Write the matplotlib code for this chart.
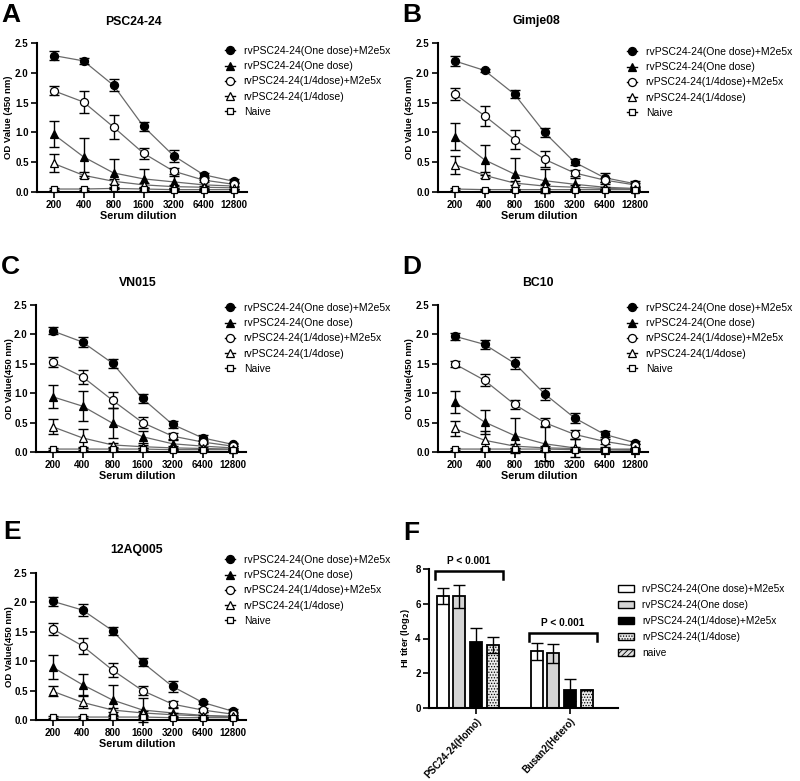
import matplotlib
matplotlib.use("Agg")
import matplotlib.pyplot as plt
from matplotlib.lines import Line2D
from matplotlib.patches import Patch
import numpy as np

plt.rcParams['font.family'] = ['Liberation Sans', 'DejaVu Sans']
plt.rcParams['hatch.linewidth'] = 0.6

W, H = 800, 781

# ---------------- data ----------------
dilutions = ['200', '400', '800', '1600', '3200', '6400', '12800']
series_labels = ['rvPSC24-24(One dose)+M2e5x', 'rvPSC24-24(One dose)',
                 'rvPSC24-24(1/4dose)+M2e5x', 'rvPSC24-24(1/4dose)', 'Naive']

# Panel A  PSC24-24
a_one_m2e = [2.29, 2.20, 1.79, 1.10, 0.61, 0.29, 0.18]
a_one_m2e_err = [0.08, 0.05, 0.10, 0.08, 0.10, 0.03, 0.03]
a_one = [0.97, 0.59, 0.32, 0.22, 0.17, 0.12, 0.10]
a_one_err = [0.22, 0.32, 0.23, 0.16, 0.10, 0.08, 0.05]
a_q_m2e = [1.70, 1.51, 1.09, 0.65, 0.35, 0.20, 0.13]
a_q_m2e_err = [0.08, 0.19, 0.20, 0.09, 0.05, 0.04, 0.03]
a_q = [0.48, 0.28, 0.18, 0.12, 0.09, 0.08, 0.07]
a_q_err = [0.15, 0.05, 0.04, 0.03, 0.03, 0.02, 0.02]
a_naive = [0.05, 0.05, 0.06, 0.05, 0.04, 0.04, 0.04]
a_naive_err = [0.01, 0.01, 0.01, 0.01, 0.01, 0.01, 0.01]

# Panel B  Gimje08
b_one_m2e = [2.20, 2.04, 1.64, 1.00, 0.50, 0.24, 0.14]
b_one_m2e_err = [0.08, 0.03, 0.07, 0.07, 0.05, 0.08, 0.04]
b_one = [0.93, 0.54, 0.30, 0.19, 0.13, 0.08, 0.06]
b_one_err = [0.22, 0.25, 0.27, 0.20, 0.10, 0.05, 0.03]
b_q_m2e = [1.65, 1.28, 0.88, 0.55, 0.32, 0.20, 0.12]
b_q_m2e_err = [0.10, 0.17, 0.16, 0.13, 0.05, 0.04, 0.03]
b_q = [0.46, 0.28, 0.15, 0.10, 0.08, 0.06, 0.05]
b_q_err = [0.15, 0.05, 0.04, 0.03, 0.03, 0.02, 0.02]
b_naive = [0.05, 0.04, 0.04, 0.04, 0.04, 0.04, 0.04]
b_naive_err = [0.01, 0.01, 0.01, 0.01, 0.01, 0.01, 0.01]

# Panel C  VN015
c_one_m2e = [2.06, 1.87, 1.51, 0.91, 0.47, 0.24, 0.13]
c_one_m2e_err = [0.06, 0.08, 0.08, 0.08, 0.06, 0.05, 0.03]
c_one = [0.94, 0.78, 0.49, 0.26, 0.14, 0.10, 0.07]
c_one_err = [0.20, 0.25, 0.25, 0.10, 0.08, 0.05, 0.03]
c_q_m2e = [1.53, 1.28, 0.88, 0.50, 0.27, 0.17, 0.10]
c_q_m2e_err = [0.08, 0.12, 0.14, 0.10, 0.06, 0.04, 0.03]
c_q = [0.43, 0.24, 0.12, 0.09, 0.07, 0.06, 0.05]
c_q_err = [0.13, 0.15, 0.04, 0.03, 0.03, 0.02, 0.02]
c_naive = [0.05, 0.05, 0.05, 0.05, 0.04, 0.04, 0.04]
c_naive_err = [0.01, 0.01, 0.01, 0.01, 0.01, 0.01, 0.01]

# Panel D  BC10
d_one_m2e = [1.97, 1.83, 1.51, 0.99, 0.58, 0.30, 0.16]
d_one_m2e_err = [0.06, 0.07, 0.10, 0.10, 0.08, 0.05, 0.03]
d_one = [0.85, 0.51, 0.28, 0.14, 0.07, 0.04, 0.03]
d_one_err = [0.18, 0.20, 0.30, 0.30, 0.15, 0.04, 0.02]
d_q_m2e = [1.50, 1.22, 0.81, 0.50, 0.30, 0.18, 0.10]
d_q_m2e_err = [0.05, 0.10, 0.08, 0.08, 0.08, 0.04, 0.03]
d_q = [0.40, 0.20, 0.10, 0.07, 0.06, 0.05, 0.05]
d_q_err = [0.13, 0.15, 0.04, 0.03, 0.03, 0.02, 0.02]
d_naive = [0.05, 0.05, 0.05, 0.05, 0.04, 0.04, 0.04]
d_naive_err = [0.01, 0.01, 0.01, 0.01, 0.01, 0.01, 0.01]

# Panel E  12AQ005
e_one_m2e = [2.02, 1.87, 1.52, 0.98, 0.57, 0.30, 0.15]
e_one_m2e_err = [0.08, 0.10, 0.07, 0.07, 0.09, 0.03, 0.03]
e_one = [0.90, 0.60, 0.34, 0.17, 0.12, 0.08, 0.06]
e_one_err = [0.20, 0.18, 0.25, 0.20, 0.10, 0.05, 0.03]
e_q_m2e = [1.55, 1.26, 0.85, 0.50, 0.27, 0.17, 0.10]
e_q_m2e_err = [0.10, 0.14, 0.12, 0.08, 0.06, 0.04, 0.03]
e_q = [0.49, 0.30, 0.17, 0.12, 0.09, 0.07, 0.06]
e_q_err = [0.08, 0.10, 0.04, 0.03, 0.03, 0.02, 0.02]
e_naive = [0.05, 0.05, 0.05, 0.05, 0.04, 0.04, 0.04]
e_naive_err = [0.01, 0.01, 0.01, 0.01, 0.01, 0.01, 0.01]

# Panel F  HI titer
hi_groups = ['PSC24-24(Homo)', 'Busan2(Hetero)']
hi_labels = ['rvPSC24-24(One dose)+M2e5x', 'rvPSC24-24(One dose)',
             'rvPSC24-24(1/4dose)+M2e5x', 'rvPSC24-24(1/4dose)', 'naive']
hi_one_m2e = [6.43, 3.26]
hi_one_m2e_err = [0.45, 0.50]
hi_one = [6.43, 3.15]
hi_one_err = [0.67, 0.54]
hi_q_m2e = [3.82, 1.04]
hi_q_m2e_err = [0.77, 0.63]
hi_q = [3.63, 1.04]
hi_q_err = [0.48, 0.0]
hi_naive = [0.0, 0.0]
p_text = 'P < 0.001'

# ---------------- layout ----------------
fig = plt.figure(figsize=(W / 100, H / 100), dpi=100)


def add_ax(left, top, right, bottom):
    return fig.add_axes([left / W, 1 - bottom / H, (right - left) / W, (bottom - top) / H])


def style_ax(ax, size=7):
    for s in ['top', 'right']:
        ax.spines[s].set_visible(False)
    for s in ['left', 'bottom']:
        ax.spines[s].set_linewidth(1.5)
    ax.tick_params(direction='out', length=4, width=1.2, labelsize=size, pad=2)
    for lab in ax.get_xticklabels() + ax.get_yticklabels():
        lab.set_fontweight('bold')


markers = [dict(marker='o', mfc='black', mec='black', ms=5.8),
           dict(marker='^', mfc='black', mec='black', ms=6.0),
           dict(marker='o', mfc='white', mec='black', ms=5.8),
           dict(marker='^', mfc='white', mec='black', ms=6.0),
           dict(marker='s', mfc='white', mec='black', ms=5.0)]


def line_panel(box, title, title_xy, letter, letter_xy, ylabel, ylab_x,
               data, legend_xy):
    ax = add_ax(*box)
    x = np.arange(len(dilutions))
    for (m, e), mk in zip(data, markers):
        ax.plot(x, m, color='#6a6a6a', lw=0.9, zorder=2, clip_on=False)
        ax.errorbar(x, m, yerr=e, fmt='none', ecolor='black', elinewidth=1.0,
                    capsize=3.5, capthick=1.0, zorder=3, clip_on=False)
        ax.plot(x, m, linestyle='none', mew=0.9, zorder=4, clip_on=False, **mk)
    ax.set_xlim(-0.55, 6.45)
    ax.set_ylim(0, 2.5)
    ax.set_xticks(x)
    ax.set_xticklabels(dilutions)
    ax.set_yticks([0, 0.5, 1.0, 1.5, 2.0, 2.5])
    ax.set_yticklabels(['0.0', '0.5', '1.0', '1.5', '2.0', '2.5'])
    style_ax(ax)
    left, top, right, bottom = box
    ax.set_xlabel('Serum dilution', fontsize=7.8, fontweight='bold')
    ax.xaxis.label.set_va('center')
    ax.xaxis.set_label_coords((138 - 37) / 210, -(24) / (bottom - top))
    ax.set_ylabel(ylabel, fontsize=6.8, fontweight='bold')
    ax.yaxis.label.set_va('center')
    ax.yaxis.set_label_coords((ylab_x - left) / (right - left), 0.5)
    fig.text(title_xy[0] / W, 1 - title_xy[1] / H, title, fontsize=8.8,
             fontweight='bold', ha='center', va='center')
    fig.text(letter_xy[0] / W, 1 - letter_xy[1] / H, letter, fontsize=19,
             fontweight='bold', ha='left', va='center')
    handles = [Line2D([0], [0], color='black', lw=1.0, mew=0.9, **mk) for mk in markers]
    ax.legend(handles, series_labels, loc='upper left',
              bbox_to_anchor=(legend_xy[0] / W, 1 - legend_xy[1] / H),
              bbox_transform=fig.transFigure, frameon=False, borderaxespad=0,
              borderpad=0, fontsize=7.5, handlelength=1.0, handletextpad=0.8,
              labelspacing=0.5)
    return ax


line_panel((37, 43, 247, 192), 'PSC24-24', (133, 22), 'A', (1, 15),
           'OD Value (450 nm)', 9,
           [(a_one_m2e, a_one_m2e_err), (a_one, a_one_err), (a_q_m2e, a_q_m2e_err),
            (a_q, a_q_err), (a_naive, a_naive_err)], (225, 46))
line_panel((438, 43, 648, 192), 'Gimje08', (536, 21), 'B', (402, 15),
           'OD Value (450 nm)', 410,
           [(b_one_m2e, b_one_m2e_err), (b_one, b_one_err), (b_q_m2e, b_q_m2e_err),
            (b_q, b_q_err), (b_naive, b_naive_err)], (627, 47))
line_panel((36, 305, 246, 452), 'VN015', (138, 283), 'C', (1, 267),
           'OD Value(450 nm)', 9,
           [(c_one_m2e, c_one_m2e_err), (c_one, c_one_err), (c_q_m2e, c_q_m2e_err),
            (c_q, c_q_err), (c_naive, c_naive_err)], (225, 303))
line_panel((438, 305, 648, 452), 'BC10', (538, 283), 'D', (402, 267),
           'OD Value(450 nm)', 410,
           [(d_one_m2e, d_one_m2e_err), (d_one, d_one_err), (d_q_m2e, d_q_m2e_err),
            (d_q, d_q_err), (d_naive, d_naive_err)], (627, 303))
line_panel((36, 573, 246, 720), '12AQ005', (137, 550), 'E', (3, 532),
           'OD Value(450 nm)', 9,
           [(e_one_m2e, e_one_m2e_err), (e_one, e_one_err), (e_q_m2e, e_q_m2e_err),
            (e_q, e_q_err), (e_naive, e_naive_err)], (225, 555))

# ---------------- panel F ----------------
axf = add_ax(429, 569, 618, 708)
gx = np.arange(len(hi_groups))
pitch = 0.178
bw = 0.128
bar_vals = [hi_one_m2e, hi_one, hi_q_m2e, hi_q, hi_naive]
bar_errs = [hi_one_m2e_err, hi_one_err, hi_q_m2e_err, hi_q_err, None]
bar_fc = ['white', '#d4d4d4', 'black', '#ececec', '#e0e0e0']
bar_hatch = [None, None, None, '......', '//////']
for i, (v, e, fc, hz) in enumerate(zip(bar_vals, bar_errs, bar_fc, bar_hatch)):
    pos = gx + (i - 2) * pitch
    if i < 4:
        axf.bar(pos, v, width=bw, color=fc, edgecolor='black', linewidth=1.3,
                hatch=hz, zorder=2)
        if e is not None:
            axf.errorbar(pos, v, yerr=e, fmt='none', ecolor='black',
                         elinewidth=1.0, capsize=4, capthick=1.0, zorder=3)
axf.set_xlim(-0.5, 1.51)
axf.set_ylim(0, 8)
axf.set_yticks([0, 2, 4, 6, 8])
axf.set_xticks(gx)
axf.set_xticklabels(hi_groups, rotation=47, ha='right', va='top',
                    rotation_mode='anchor')
style_ax(axf)
for lab in axf.get_xticklabels():
    lab.set_fontsize(6.9)
axf.set_ylabel(r'HI titer (log$_\mathbf{2}$)', fontsize=6.8, fontweight='bold')
axf.yaxis.label.set_va('center')
axf.yaxis.set_label_coords((406 - 429) / 189, 0.5)

# significance brackets
for g, (ytop, ylow, ytext) in zip(gx, [(7.9, 7.4, 8.45), (4.3, 3.85, 4.9)]):
    xl = g - 2 * pitch - bw / 2 - 0.02
    xr = g + pitch + bw / 2 + 0.04
    axf.plot([xl, xl, xr, xr], [ylow, ytop, ytop, ylow], color='black', lw=1.8,
             clip_on=False, solid_joinstyle='miter')
    axf.text((xl + xr) / 2, ytext, p_text, fontsize=7.3, fontweight='bold',
             ha='center', va='center')

fig.text(403 / W, 1 - 533 / H, 'F', fontsize=19, fontweight='bold',
         ha='left', va='center')

f_handles = [Patch(facecolor=fc, edgecolor='black', linewidth=1.0, hatch=hz)
             for fc, hz in zip(bar_fc, bar_hatch)]
fig.legend(f_handles, hi_labels, loc='upper left',
           bbox_to_anchor=(618 / W, 1 - 584 / H), frameon=False,
           borderaxespad=0, borderpad=0, fontsize=7.3, handlelength=1.6,
           handleheight=0.7, handletextpad=0.8, labelspacing=0.6)

fig.savefig('out.png', dpi=100)
